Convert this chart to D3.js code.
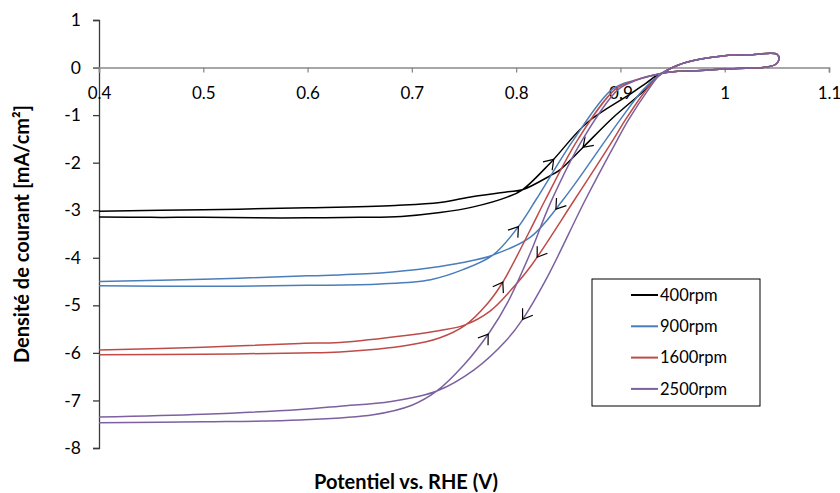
<!DOCTYPE html>
<html>
<head>
<meta charset="utf-8">
<script src="https://cdn.jsdelivr.net/npm/d3@7"></script>
<style>
  body { margin: 0; background: #fff; }
  svg { display: block; }
  text { font-family: Lato, "Open Sans", sans-serif; fill: #000; }
</style>
</head>
<body>
<svg id="chart" width="840" height="493"></svg>
<script>
// tick values
var xTicks = [0.4, 0.5, 0.6, 0.7, 0.8, 0.9, 1, 1.1];
var yTicks = [1, 0, -1, -2, -3, -4, -5, -6, -7, -8];

var seriesNames = ["400rpm", "900rpm", "1600rpm", "2500rpm"];
var seriesColors = ["#000000", "#4a7ebb", "#be4b48", "#7d60a0"];

// anodic scan (forward), [E vs RHE (V), j (mA/cm2)]
var fwd400 = [[0.4,-3.14],[0.45,-3.15],[0.5,-3.15],[0.55,-3.16],[0.6,-3.16],[0.65,-3.15],[0.69,-3.13],[0.727,-3.05],[0.759,-2.93],[0.792,-2.72],[0.806,-2.57],[0.833,-2.0],[0.868,-1.16],[0.91,-0.55],[0.925,-0.32],[0.938,-0.13]];
var fwd900 = [[0.4,-4.59],[0.5,-4.6],[0.6,-4.58],[0.67,-4.55],[0.718,-4.46],[0.749,-4.25],[0.778,-3.94],[0.802,-3.35],[0.819,-2.78],[0.855,-1.52],[0.892,-0.46],[0.913,-0.27],[0.938,-0.13]];
var fwd1600 = [[0.4,-6.04],[0.5,-6.03],[0.593,-6.0],[0.631,-5.98],[0.696,-5.84],[0.727,-5.68],[0.751,-5.42],[0.773,-4.95],[0.787,-4.52],[0.8136,-3.41],[0.828,-2.78],[0.859,-1.52],[0.895,-0.46],[0.914,-0.27],[0.938,-0.13]];
var fwd2500 = [[0.4,-7.47],[0.5,-7.45],[0.593,-7.41],[0.663,-7.3],[0.7,-7.1],[0.724,-6.8],[0.75,-6.25],[0.775,-5.55],[0.7916,-4.95],[0.8136,-3.9],[0.8328,-2.85],[0.8635,-1.52],[0.898,-0.46],[0.915,-0.27],[0.938,-0.13]];

// cathodic scan (backward)
var bwd400 = [[0.4,-3.02],[0.5,-2.99],[0.6,-2.95],[0.684,-2.9],[0.727,-2.84],[0.759,-2.71],[0.792,-2.61],[0.806,-2.57],[0.833,-2.27],[0.842,-2.15],[0.864,-1.68],[0.893,-1.05],[0.924,-0.46],[0.938,-0.15]];
var bwd900 = [[0.4,-4.5],[0.5,-4.45],[0.6,-4.38],[0.67,-4.32],[0.718,-4.21],[0.749,-4.1],[0.778,-3.94],[0.814,-3.56],[0.845,-2.78],[0.886,-1.52],[0.9,-1.09],[0.922,-0.46],[0.938,-0.15]];
var bwd1600 = [[0.4,-5.94],[0.5,-5.88],[0.593,-5.8],[0.631,-5.78],[0.696,-5.63],[0.727,-5.53],[0.751,-5.41],[0.775,-5.12],[0.795,-4.68],[0.8136,-4.19],[0.856,-2.78],[0.893,-1.52],[0.905,-1.09],[0.925,-0.46],[0.938,-0.15]];
var bwd2500 = [[0.4,-7.35],[0.5,-7.29],[0.593,-7.19],[0.631,-7.12],[0.68,-7.02],[0.724,-6.8],[0.76,-6.35],[0.79,-5.75],[0.806,-5.3],[0.83,-4.4],[0.8664,-2.78],[0.897,-1.52],[0.908,-1.09],[0.927,-0.46],[0.938,-0.15]];

// the small loop above 0.94 V, common to all rotation rates
var loopLower = [[0.955,-0.08],[0.977,-0.06],[1.0,-0.03],[1.025,-0.01],[1.04,0.01],[1.049,0.07],[1.052,0.17]];
var loopUpper = [[1.05,0.28],[1.025,0.27],[1.0,0.25],[0.977,0.18],[0.955,0.05]];

// potentials where the scan direction arrows sit
var arrowFwd = [0.836, 0.802, 0.787, 0.773];
var arrowBwd = [0.864, 0.838, 0.82, 0.806];

var fwd = [fwd400, fwd900, fwd1600, fwd2500];
var bwd = [bwd400, bwd900, bwd1600, bwd2500];

var svg = d3.select("#chart");

var x = d3.scaleLinear().domain([0.4, 1.1]).range([99, 829]);
var y = d3.scaleLinear().domain([-8, 1]).range([448, 20]);

// y axis
var yAxis = svg.append("g")
    .attr("transform", "translate(" + x(0.4) + ",0)")
    .call(d3.axisLeft(y).tickValues(yTicks).tickSize(6).tickPadding(12).tickFormat(function(d) { return d; }));
yAxis.select(".domain").attr("stroke", "#3a3a3a").attr("stroke-width", 1.3);
yAxis.selectAll(".tick line").attr("stroke", "#3a3a3a").attr("stroke-width", 1.3);
yAxis.selectAll("text").attr("font-size", "17.5px").attr("fill", "#000");

// x axis crossing at y = 0
var xAxis = svg.append("g")
    .attr("transform", "translate(0," + y(0) + ")")
    .call(d3.axisBottom(x).tickValues(xTicks).tickSize(5).tickPadding(14).tickFormat(function(d) { return d; }));
xAxis.select(".domain").attr("stroke", "#8a8a8a").attr("stroke-width", 1.6);
xAxis.selectAll(".tick line").attr("stroke", "#8a8a8a").attr("stroke-width", 1.3);
xAxis.selectAll("text").attr("font-size", "17px").attr("fill", "#000");

var line = d3.line()
    .x(function(d) { return x(d[0]); })
    .y(function(d) { return y(d[1]); })
    .curve(d3.curveCatmullRom.alpha(0.5));

// one path per rotation rate: forward, loop, then backward
seriesNames.forEach(function(name, i) {
    var pts = fwd[i].concat(loopLower, loopUpper, bwd[i].slice().reverse());
    var path = svg.append("path")
        .datum(pts)
        .attr("fill", "none")
        .attr("stroke", seriesColors[i])
        .attr("stroke-width", 1.5)
        .attr("d", line);

    var node = path.node();
    var total = node.getTotalLength();

    function arrowAt(len) {
        var p = node.getPointAtLength(len);
        var a = node.getPointAtLength(Math.max(0, len - 2));
        var b = node.getPointAtLength(Math.min(total, len + 2));
        var ang = Math.atan2(b.y - a.y, b.x - a.x);
        var arm = 11, spread = 0.6;
        var p1 = [p.x - arm * Math.cos(ang - spread), p.y - arm * Math.sin(ang - spread)];
        var p2 = [p.x - arm * Math.cos(ang + spread), p.y - arm * Math.sin(ang + spread)];
        svg.append("path")
            .attr("d", "M" + p1 + "L" + p.x + "," + p.y + "L" + p2)
            .attr("fill", "none")
            .attr("stroke", "#000")
            .attr("stroke-width", 1.2);
    }

    // forward arrow: first crossing of the potential from the start
    var target = x(arrowFwd[i]);
    for (var l = 0; l < total; l += 0.5) {
        if (node.getPointAtLength(l).x >= target) { arrowAt(l); break; }
    }
    // backward arrow: first crossing from the end
    target = x(arrowBwd[i]);
    for (var m = total; m > 0; m -= 0.5) {
        if (node.getPointAtLength(m).x >= target) { arrowAt(m); break; }
    }
});

// legend
var legend = svg.append("g");
legend.append("rect")
    .attr("x", 592).attr("y", 279).attr("width", 168).attr("height", 127)
    .attr("fill", "#fff").attr("stroke", "#000").attr("stroke-width", 1);
seriesNames.forEach(function(name, i) {
    var ly = 295 + i * 31.3;
    legend.append("line")
        .attr("x1", 631).attr("x2", 658).attr("y1", ly).attr("y2", ly)
        .attr("stroke", seriesColors[i]).attr("stroke-width", 2);
    legend.append("text")
        .attr("x", 660).attr("y", ly).attr("dy", "0.35em")
        .attr("font-size", "16.5px")
        .text(name);
});

// axis titles
svg.append("text")
    .attr("transform", "translate(22," + ((y(1) + y(-8)) / 2) + ") rotate(-90)")
    .attr("text-anchor", "middle")
    .attr("dy", "0.35em")
    .attr("font-size", "20px")
    .attr("font-weight", "bold")
    .text("Densité de courant [mA/cm²]");

svg.append("text")
    .attr("x", 406).attr("y", 482)
    .attr("text-anchor", "middle")
    .attr("dy", "0.35em")
    .attr("font-size", "20px")
    .attr("font-weight", "bold")
    .text("Potentiel vs. RHE (V)");
</script>
</body>
</html>
